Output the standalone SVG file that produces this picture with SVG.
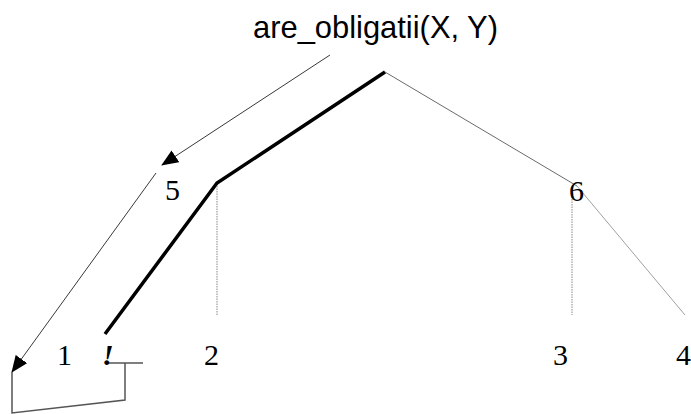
<svg xmlns="http://www.w3.org/2000/svg" width="691" height="414" viewBox="0 0 691 414">
<style>
.lbl{font-family:"Liberation Serif","Times New Roman",serif;font-size:30px;fill:#000}
.thin{stroke:#444;stroke-width:0.8;fill:none}
.dot{stroke:#888;stroke-width:1;stroke-dasharray:1.5,1;fill:none}
.arr{stroke:#222;stroke-width:0.9;fill:none}
.ctl{stroke:#555;stroke-width:1.5;fill:none}
</style>
<defs>
<marker id="ah" markerWidth="17" markerHeight="14" refX="16" refY="7" orient="auto" markerUnits="userSpaceOnUse">
<path d="M0,0 L17,7 L0,14 Z" fill="#000"/>
</marker>
</defs>
<rect width="691" height="414" fill="#fff"/>
<g id="connectors">
<path d="M385,72 L217,183 L105,334" stroke="#000" stroke-width="3.5" fill="none" stroke-linejoin="miter"/>
<path class="thin" d="M385,72 L577,186"/>
<path class="thin" d="M577,186 L685,315" style="stroke:#888"/>
<path class="dot" d="M217,186 L217,315"/>
<path class="dot" d="M572,194 L572,315"/>
<path class="arr" d="M330,55 L162,165" marker-end="url(#ah)"/>
<path class="arr" d="M156,173 L12,372" marker-end="url(#ah)"/>
<path class="ctl" d="M12,372 L12,413 L125,400 L125,363"/>
<path class="ctl" d="M108,363 L143,363"/>
</g>
<g id="root"><text x="253" y="38" font-family="Liberation Sans, Arial, sans-serif" font-size="32" textLength="245" lengthAdjust="spacingAndGlyphs">are_obligatii(X, Y)</text></g>
<g id="n5"><text class="lbl" x="165" y="200">5</text></g>
<g id="n6"><text class="lbl" x="569" y="201">6</text></g>
<g id="n1"><text class="lbl" x="57" y="365">1</text></g>
<g id="cut"><text class="lbl" x="102" y="365" font-style="italic" font-weight="bold">!</text></g>
<g id="n2"><text class="lbl" x="204" y="365">2</text></g>
<g id="n3"><text class="lbl" x="553" y="365">3</text></g>
<g id="n4"><text class="lbl" x="676" y="365">4</text></g>
</svg>
